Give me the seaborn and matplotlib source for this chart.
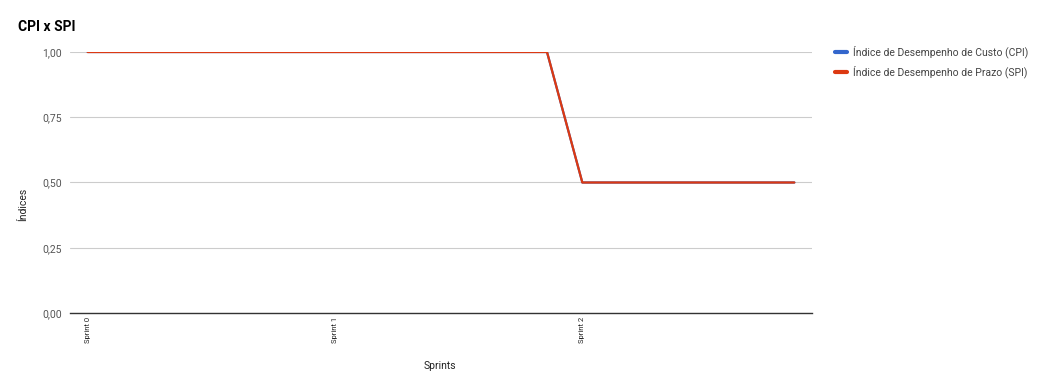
import matplotlib
matplotlib.use("Agg")
import matplotlib.pyplot as plt
import seaborn as sns
import pandas as pd

# Data
points = list(range(21))
cpi = [1.0] * 14 + [0.5] * 7
spi = [1.0] * 14 + [0.5] * 7
tick_positions = [0, 7, 14]
tick_labels = ["Sprint 0", "Sprint 1", "Sprint 2"]
series_names = ["Índice de Desempenho de Custo (CPI)", "Índice de Desempenho de Prazo (SPI)"]
y_ticks = [0.0, 0.25, 0.5, 0.75, 1.0]
y_tick_labels = ["0,00", "0,25", "0,50", "0,75", "1,00"]

df = pd.DataFrame({
    "x": points * 2,
    "y": cpi + spi,
    "serie": [series_names[0]] * len(points) + [series_names[1]] * len(points),
})

sns.set_theme(style="white")
plt.rcParams["font.family"] = ["Roboto", "DejaVu Sans"]

fig = plt.figure(figsize=(10.52, 3.82), dpi=100)
ax = fig.add_axes([70 / 1052, 1 - 313 / 382, (812 - 70) / 1052, (313 - 52) / 382])

palette = {series_names[0]: "#3366cc", series_names[1]: "#dc3912"}
sns.lineplot(data=df, x="x", y="y", hue="serie", palette=palette, ax=ax,
             linewidth=1.6, legend=False, zorder=3)

ax.set_xlim(-0.5, 20.5)
ax.set_ylim(0, 1.0)
ax.set_yticks(y_ticks)
ax.set_yticklabels(y_tick_labels, color="#555555", fontsize=7.5)
ax.set_xticks(tick_positions)
ax.set_xticklabels(tick_labels, rotation=90, fontsize=5.5, color="#222222", va="top")
ax.tick_params(axis="both", length=0, pad=6)
ax.tick_params(axis="x", pad=3)
ax.yaxis.grid(True, color="#cccccc", linewidth=0.8, zorder=0)
ax.xaxis.grid(False)
for s in ["top", "right", "left"]:
    ax.spines[s].set_visible(False)
ax.spines["bottom"].set_color("#333333")
ax.spines["bottom"].set_linewidth(1.0)
ax.spines["bottom"].set_zorder(4)

ax.set_xlabel("Sprints", fontsize=7.5, color="#222222")
ax.set_ylabel("Índices", fontsize=7.5, color="#222222")
ax.xaxis.set_label_coords((440 - 70) / (812 - 70), -(361 - 313) / (313 - 52))
ax.yaxis.set_label_coords(-(70 - 28) / (812 - 70), (313 - 204) / (313 - 52))

fig.text(18 / 1052, 1 - 27 / 382, "CPI x SPI", fontsize=10, fontweight="bold",
         color="#000000", va="center", ha="left")

# Legend
for i, name in enumerate(series_names):
    yy = 1 - (52 + 20 * i) / 382
    fig.lines.append(plt.Line2D([835 / 1052, 847 / 1052], [yy, yy], transform=fig.transFigure,
                                color=palette[name], linewidth=3))
    fig.text(853 / 1052, yy, name, fontsize=7.5, color="#444444", va="center", ha="left")

fig.savefig("out.png", dpi=100)
